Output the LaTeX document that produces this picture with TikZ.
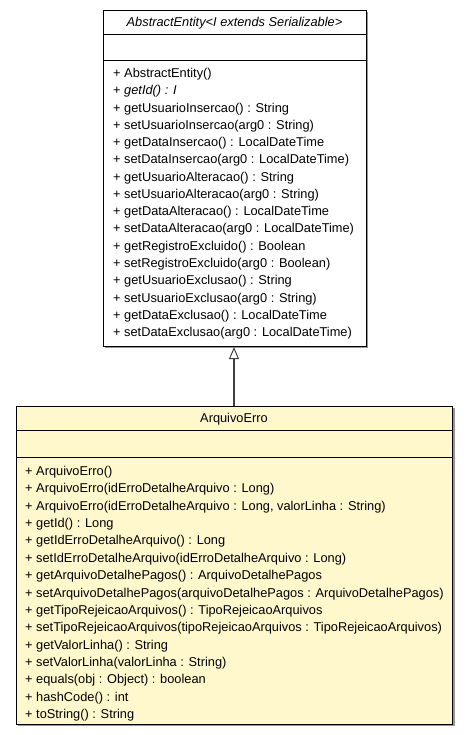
\documentclass[tikz,border=0pt]{standalone}
\usepackage{fontspec}
\setmainfont{Liberation Sans}
\usetikzlibrary{arrows.meta}
\definecolor{classyellow}{RGB}{255,248,204}
\definecolor{shadowgray}{RGB}{150,150,150}
\tikzset{
  classbox/.style={draw=black, line width=1pt, anchor=north west, inner sep=0pt},
  member/.style={anchor=base west, inner sep=0pt, font=\fontsize{12.8}{14}\selectfont},
  title/.style={anchor=base, inner sep=0pt, font=\fontsize{12.8}{14}\selectfont},
  sep/.style={draw=black, line width=1pt},
  inherit/.style={draw=black!75, line width=1.2pt, -{Triangle[open, length=12pt, width=10pt, line width=1pt]}}
}
\begin{document}
\begin{tikzpicture}[x=1pt, y=-1pt]
\useasboundingbox (0,0) rectangle (468,735);
% shadows
\fill[shadowgray] (105,12) rectangle (368,348);
\fill[shadowgray] (18,408) rectangle (455,726);
% top box
\node[classbox, fill=white, minimum width=263pt, minimum height=336pt] (abs) at (103,10) {};
\draw[sep] (103,35) -- (366,35);
\draw[sep] (103,61) -- (366,61);
\node[title] (absname) at (234.5,27) {\itshape AbstractEntity<I extends Serializable>};
\foreach \t [count=\i from 0] in {
  {+ AbstractEntity()},
  {+ \itshape getId() : I},
  {+ getUsuarioInsercao() : String},
  {+ setUsuarioInsercao(arg0 : String)},
  {+ getDataInsercao() : LocalDateTime},
  {+ setDataInsercao(arg0 : LocalDateTime)},
  {+ getUsuarioAlteracao() : String},
  {+ setUsuarioAlteracao(arg0 : String)},
  {+ getDataAlteracao() : LocalDateTime},
  {+ setDataAlteracao(arg0 : LocalDateTime)},
  {+ getRegistroExcluido() : Boolean},
  {+ setRegistroExcluido(arg0 : Boolean)},
  {+ getUsuarioExclusao() : String},
  {+ setUsuarioExclusao(arg0 : String)},
  {+ getDataExclusao() : LocalDateTime},
  {+ setDataExclusao(arg0 : LocalDateTime)}}
  \node[member] (am\i) at (113,77.5+17.27*\i) {\t};
% bottom box
\node[classbox, fill=classyellow, minimum width=436pt, minimum height=318pt] (arq) at (16,406) {};
\draw[sep] (16,430) -- (452,430);
\draw[sep] (16,457) -- (452,457);
\node[title] (arqname) at (234,422.5) {ArquivoErro};
\foreach \t [count=\i from 0] in {
  {+ ArquivoErro()},
  {+ ArquivoErro(idErroDetalheArquivo : Long)},
  {+ ArquivoErro(idErroDetalheArquivo : Long, valorLinha : String)},
  {+ getId() : Long},
  {+ getIdErroDetalheArquivo() : Long},
  {+ setIdErroDetalheArquivo(idErroDetalheArquivo : Long)},
  {+ getArquivoDetalhePagos() : ArquivoDetalhePagos},
  {+ setArquivoDetalhePagos(arquivoDetalhePagos : ArquivoDetalhePagos)},
  {+ getTipoRejeicaoArquivos() : TipoRejeicaoArquivos},
  {+ setTipoRejeicaoArquivos(tipoRejeicaoArquivos : TipoRejeicaoArquivos)},
  {+ getValorLinha() : String},
  {+ setValorLinha(valorLinha : String)},
  {+ equals(obj : Object) : boolean},
  {+ hashCode() : int},
  {+ toString() : String}}
  \node[member] (bm\i) at (25,475.5+17.36*\i) {\t};
% inheritance
\draw[inherit] (arq.north -| 234,0) -- (abs.south -| 234,0);
\end{tikzpicture}
\end{document}
